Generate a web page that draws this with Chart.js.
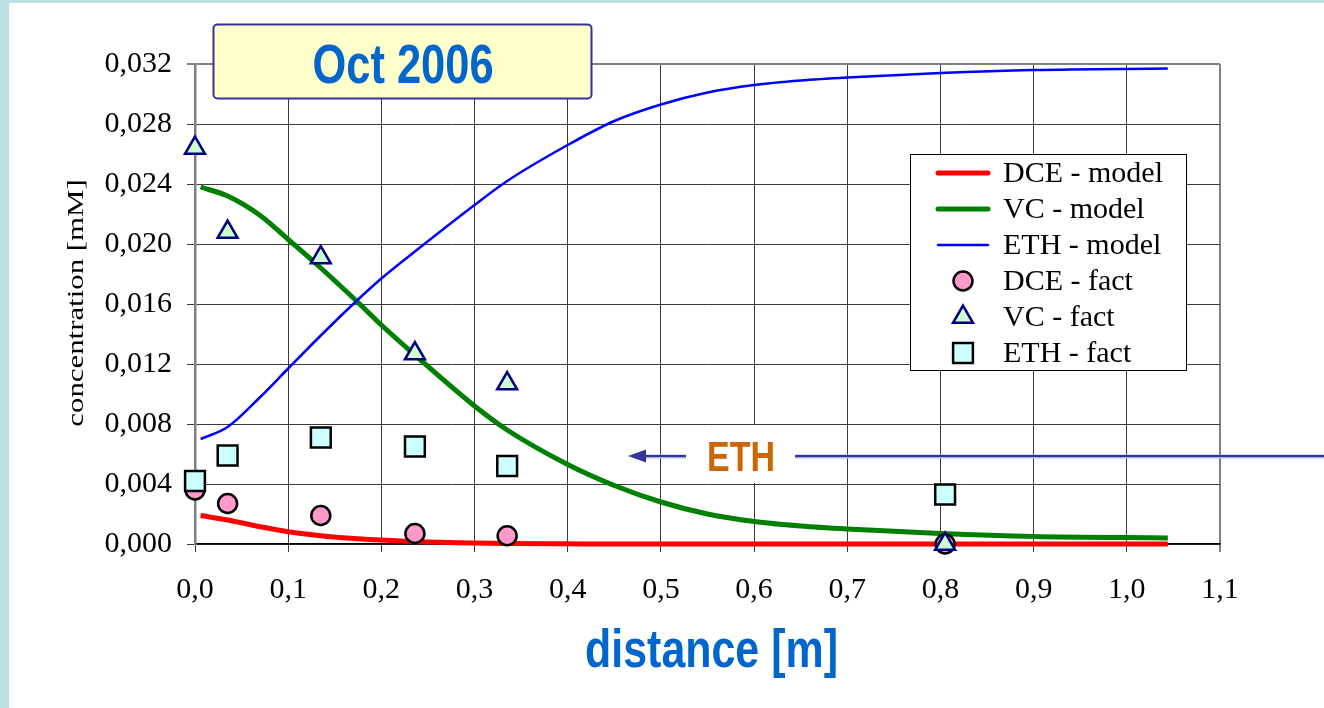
<!DOCTYPE html>
<html>
<head>
<meta charset="utf-8">
<script src="https://cdn.jsdelivr.net/npm/chart.js@4.4.1/dist/chart.umd.min.js"></script>
<style>
  html, body { margin: 0; padding: 0; background: #bbe0e3; overflow: hidden; }
  #chart { display: block; }
</style>
</head>
<body>
<canvas id="chart" width="1324" height="708"></canvas>
<script>
// distance [m] where the model curves are sampled
const modelDistance = [0.006, 0.035, 0.07, 0.1, 0.135, 0.175, 0.2, 0.236, 0.3, 0.335, 0.4, 0.45, 0.5, 0.55, 0.6, 0.65, 0.7, 0.8, 0.9, 1.044];
const dceModel = [0.0019, 0.0016, 0.00115, 0.00082, 0.00055, 0.00035, 0.00026, 0.00016, 0.00006, 0.00003, 0.00001, 0, 0, 0, 0, 0, 0, 0, 0, 0];
const vcModel  = [0.0238, 0.0232, 0.0219, 0.0203, 0.0184, 0.0161, 0.0146, 0.0126, 0.0092, 0.0076, 0.0053, 0.0039, 0.0028, 0.0020, 0.0015, 0.0012, 0.0010, 0.0007, 0.0005, 0.0004];
const ethModel = [0.0070, 0.0078, 0.0098, 0.0117, 0.0139, 0.0163, 0.0177, 0.0195, 0.0226, 0.0242, 0.0266, 0.0282, 0.0293, 0.0301, 0.0306, 0.0309, 0.0311, 0.0314, 0.0316, 0.0317];

// measured concentrations at the sampling points
const factDistance = [0.0, 0.035, 0.135, 0.236, 0.335, 0.805];
const dceFact = [0.0036, 0.0027, 0.0019, 0.0007, 0.00055, 0.0];
const vcFact  = [0.0264, 0.0208, 0.0191, 0.0127, 0.0107, 0.0];
const ethFact = [0.0042, 0.0059, 0.0071, 0.0065, 0.0052, 0.0033];

const seriesLabels = ['DCE - model', 'VC - model', 'ETH - model', 'DCE - fact', 'VC - fact', 'ETH - fact'];
const xTickValues = [0.0, 0.1, 0.2, 0.3, 0.4, 0.5, 0.6, 0.7, 0.8, 0.9, 1.0, 1.1];
const yTickValues = [0.000, 0.004, 0.008, 0.012, 0.016, 0.020, 0.024, 0.028, 0.032];

const chartTitle = 'Oct 2006';
const xTitle = 'distance [m]';
const yTitle = 'concentration [mM]';
const arrowLabel = 'ETH';

const pairs = (xs, ys) => xs.map((x, i) => ({ x, y: ys[i] }));
const comma = (v, d) => v.toFixed(d).replace('.', ',');
const serif = '"Liberation Serif", "Times New Roman", serif';
const sans = '"Liberation Sans", Arial, sans-serif';

function modelSet(label, data, color, width, order) {
  return {
    label, data, order,
    showLine: true,
    borderColor: color,
    backgroundColor: color,
    borderWidth: width,
    cubicInterpolationMode: 'monotone',
    pointRadius: 0,
    pointHoverRadius: 0,
    clip: false
  };
}

function factSet(label, data, style, fill, edge, radius, order) {
  return {
    label, data, order,
    showLine: false,
    pointStyle: style,
    pointRadius: radius,
    pointHoverRadius: radius,
    pointBackgroundColor: fill,
    pointBorderColor: edge,
    pointBorderWidth: 2.5,
    backgroundColor: fill,
    borderColor: edge,
    clip: false
  };
}

const datasets = [
  modelSet(seriesLabels[0], pairs(modelDistance, dceModel), '#ff0000', 5, 6),
  modelSet(seriesLabels[1], pairs(modelDistance, vcModel), '#008000', 5, 5),
  modelSet(seriesLabels[2], pairs(modelDistance, ethModel), '#0000ff', 2.5, 4),
  factSet(seriesLabels[3], pairs(factDistance, dceFact), 'circle', '#ff99cc', '#000000', 9.5, 3),
  factSet(seriesLabels[4], pairs(factDistance, vcFact), 'triangle', '#ccffcc', '#000080', 11.5, 2),
  factSet(seriesLabels[5], pairs(factDistance, ethFact), 'rect', '#ccffff', '#000000', 14, 1)
];

// white sheet behind the chart
const sheet = {
  id: 'sheet',
  beforeDraw(chart) {
    const ctx = chart.ctx;
    ctx.save();
    ctx.fillStyle = '#ffffff';
    ctx.fillRect(9, 3, chart.width - 9, chart.height - 3);
    ctx.restore();
  }
};

// titles, the arrow note and the legend box
const decorations = {
  id: 'decorations',
  afterDraw(chart) {
    const ctx = chart.ctx;

    // y axis title
    ctx.save();
    ctx.translate(82.5, 303);
    ctx.rotate(-Math.PI / 2);
    ctx.scale(1.34, 1);
    ctx.font = '23px ' + serif;
    ctx.fillStyle = '#000';
    ctx.textAlign = 'center';
    ctx.textBaseline = 'alphabetic';
    ctx.fillText(yTitle, 0, 0);
    ctx.restore();

    // x axis title
    ctx.save();
    ctx.translate(711.5, 667);
    ctx.scale(0.795, 1);
    ctx.font = 'bold 54px ' + sans;
    ctx.fillStyle = '#0066cc';
    ctx.textAlign = 'center';
    ctx.textBaseline = 'alphabetic';
    ctx.fillText(xTitle, 0, 0);
    ctx.restore();

    // title box
    ctx.save();
    ctx.beginPath();
    ctx.roundRect(213.5, 24.5, 378, 74, 4);
    ctx.fillStyle = '#ffffcc';
    ctx.fill();
    ctx.lineWidth = 2;
    ctx.strokeStyle = '#333399';
    ctx.stroke();
    ctx.translate(403, 83);
    ctx.scale(0.79, 1);
    ctx.font = 'bold 55px ' + sans;
    ctx.fillStyle = '#0066cc';
    ctx.textAlign = 'center';
    ctx.fillText(chartTitle, 0, 0);
    ctx.restore();

    // arrow pointing at the ETH curve
    ctx.save();
    const ay = 456;
    ctx.strokeStyle = '#aab0dd';
    ctx.lineWidth = 4;
    ctx.beginPath();
    ctx.moveTo(640, ay + 0.5);
    ctx.lineTo(chart.width, ay + 0.5);
    ctx.stroke();
    ctx.strokeStyle = '#333399';
    ctx.lineWidth = 2;
    ctx.beginPath();
    ctx.moveTo(640, ay);
    ctx.lineTo(chart.width, ay);
    ctx.stroke();
    ctx.fillStyle = '#333399';
    ctx.beginPath();
    ctx.moveTo(628, ay);
    ctx.lineTo(646, ay - 6.5);
    ctx.lineTo(646, ay + 6.5);
    ctx.closePath();
    ctx.fill();
    ctx.fillStyle = '#ffffff';
    ctx.fillRect(686, 425, 109, 58);
    ctx.translate(741, 471);
    ctx.scale(0.81, 1);
    ctx.font = 'bold 42px ' + sans;
    ctx.fillStyle = '#cc6600';
    ctx.textAlign = 'center';
    ctx.fillText(arrowLabel, 0, 0);
    ctx.restore();

    // legend
    ctx.save();
    ctx.fillStyle = '#ffffff';
    ctx.fillRect(910.5, 154.5, 276, 216);
    ctx.strokeStyle = '#000000';
    ctx.lineWidth = 1;
    ctx.strokeRect(910.5, 154.5, 276, 216);
    ctx.font = '30px ' + serif;
    ctx.textAlign = 'left';
    ctx.textBaseline = 'middle';
    chart.data.datasets.forEach((ds, i) => {
      const y = 173 + i * 36;
      if (ds.showLine) {
        ctx.strokeStyle = ds.borderColor;
        ctx.lineWidth = ds.borderWidth;
        ctx.lineCap = 'round';
        ctx.beginPath();
        ctx.moveTo(938, y);
        ctx.lineTo(988, y);
        ctx.stroke();
      } else {
        ctx.fillStyle = ds.pointBackgroundColor;
        ctx.strokeStyle = ds.pointBorderColor;
        ctx.lineWidth = ds.pointBorderWidth;
        Chart.helpers.drawPoint(ctx, { pointStyle: ds.pointStyle, radius: ds.pointRadius, rotation: 0, borderWidth: ds.pointBorderWidth }, 963, y);
      }
      ctx.fillStyle = '#000000';
      ctx.fillText(ds.label, 1003, y + 1);
    });
    ctx.restore();
  }
};

const isLast = (v, last) => Math.abs(v - last) < 1e-9;

new Chart(document.getElementById('chart'), {
  type: 'scatter',
  data: { datasets },
  options: {
    responsive: false,
    animation: false,
    devicePixelRatio: 1,
    layout: { padding: { left: 0, top: 64, right: 104, bottom: 0 } },
    plugins: {
      legend: { display: false },
      tooltip: { enabled: false }
    },
    scales: {
      x: {
        type: 'linear',
        min: 0,
        max: 1.1,
        afterBuildTicks: s => { s.ticks = xTickValues.map(v => ({ value: v })); },
        afterFit: s => { s.height = 164; },
        ticks: {
          padding: 20,
          color: '#000',
          font: { family: serif, size: 30 },
          maxRotation: 0,
          autoSkip: false,
          callback: v => comma(v, 1)
        },
        grid: {
          tickLength: 8,
          color: c => (c.tick && isLast(c.tick.value, 1.1)) ? '#808080' : '#3a3a3a',
          lineWidth: c => (c.tick && isLast(c.tick.value, 1.1)) ? 2 : 1
        },
        border: { color: '#000000', width: 1.5 }
      },
      y: {
        type: 'linear',
        min: 0,
        max: 0.032,
        afterBuildTicks: s => { s.ticks = yTickValues.map(v => ({ value: v })); },
        afterFit: s => { s.width = 195; },
        ticks: {
          padding: 15,
          color: '#000',
          font: { family: serif, size: 30 },
          autoSkip: false,
          callback: v => comma(v, 3)
        },
        grid: {
          tickLength: 8,
          color: c => (c.tick && isLast(c.tick.value, 0.032)) ? '#808080' : '#3a3a3a',
          lineWidth: c => (c.tick && isLast(c.tick.value, 0.032)) ? 2 : 1
        },
        border: { color: '#808080', width: 2.5 }
      }
    }
  },
  plugins: [sheet, decorations]
});
</script>
</body>
</html>
